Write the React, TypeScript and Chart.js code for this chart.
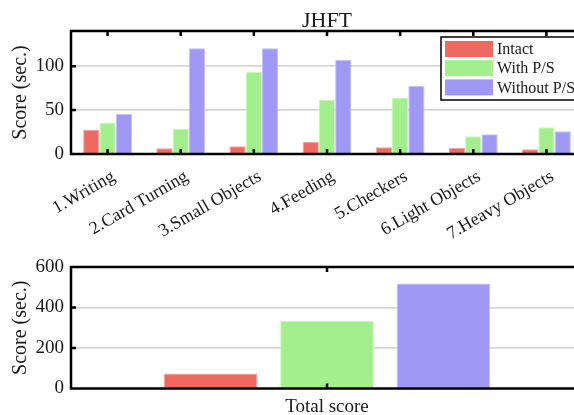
import React, { useEffect, useRef } from "react";
import { Chart, registerables } from "chart.js";

Chart.register(...registerables);

// Per-task scores (seconds)
const tasks = [
  "1.Writing",
  "2.Card Turning",
  "3.Small Objects",
  "4.Feeding",
  "5.Checkers",
  "6.Light Objects",
  "7.Heavy Objects",
];
const seriesNames = ["Intact", "With P/S", "Without P/S"];
const intact = [27.6, 6.5, 8.8, 13.7, 7.7, 6.9, 5.4];
const withPS = [35.6, 28.6, 93.5, 61.4, 64, 20.3, 30.5];
const withoutPS = [45.6, 120.5, 120.5, 107, 77.5, 22.6, 26];

// Total scores (seconds)
const totalCategory = ["Total score"];
const totals = [74, 334, 519];

const fills = ["#EE6A61", "#A3EF8D", "#9F98F4"];
const edges = ["#F4A49E", "#C8F6B9", "#C6C2F8"];

const SERIF = "'Liberation Serif', 'DejaVu Serif', serif";
const INK = "#1a1a1a";

// Black frame around the plot area with short inward ticks
const framePlugin = {
  id: "frame",
  afterDraw(chart: any) {
    const { ctx, chartArea: a } = chart;
    const x = chart.scales.x;
    const y = chart.scales.y;
    ctx.save();
    ctx.strokeStyle = "#000";
    ctx.lineWidth = 2.5;
    ctx.beginPath();
    for (let i = 0; i < x.ticks.length; i++) {
      const px = x.getPixelForTick(i);
      ctx.moveTo(px, a.bottom);
      ctx.lineTo(px, a.bottom - 5);
      ctx.moveTo(px, a.top);
      ctx.lineTo(px, a.top + 5);
    }
    for (const t of y.ticks) {
      const py = y.getPixelForValue(t.value);
      if (py <= a.top + 1 || py >= a.bottom - 1) continue;
      ctx.moveTo(a.left, py);
      ctx.lineTo(a.left + 5, py);
    }
    ctx.stroke();
    ctx.strokeRect(a.left, a.top, a.right - a.left, a.bottom - a.top);
    ctx.restore();
  },
};

// Title centred over the plot area
const plotTitlePlugin = {
  id: "plotTitle",
  afterDraw(chart: any, _args: any, opts: any) {
    if (!opts || !opts.text) return;
    const { ctx, chartArea: a } = chart;
    ctx.save();
    ctx.font = `normal 22px ${SERIF}`;
    ctx.fillStyle = INK;
    ctx.textAlign = "center";
    ctx.textBaseline = "middle";
    ctx.fillText(opts.text, (a.left + a.right) / 2, opts.y);
    ctx.restore();
  },
};

// Boxed legend inside the upper-right corner of the plot
const boxLegendPlugin = {
  id: "boxLegend",
  afterDraw(chart: any, _args: any, opts: any) {
    if (!opts || !opts.show) return;
    const { ctx } = chart;
    const x0 = opts.x;
    const y0 = opts.y;
    ctx.save();
    ctx.fillStyle = "#fff";
    ctx.fillRect(x0, y0, opts.w, opts.h);
    ctx.strokeStyle = "#000";
    ctx.lineWidth = 1.5;
    ctx.strokeRect(x0, y0, opts.w, opts.h);
    ctx.font = `normal 16px ${SERIF}`;
    ctx.textBaseline = "middle";
    ctx.textAlign = "left";
    chart.data.datasets.forEach((ds: any, i: number) => {
      const cy = y0 + 12 + i * 19.2;
      ctx.fillStyle = ds.backgroundColor;
      ctx.fillRect(x0 + 4, cy - 8, 48, 16);
      ctx.fillStyle = INK;
      ctx.fillText(ds.label, x0 + 56, cy + 1);
    });
    ctx.restore();
  },
};

function makeDatasets(series: number[][]) {
  return series.map((data, i) => ({
    label: seriesNames[i],
    data,
    backgroundColor: fills[i],
    borderColor: edges[i],
    borderWidth: 1,
  }));
}

function baseOptions(cfg: {
  max: number;
  step: number;
  axisWidth: number;
  xHeight: number;
  padTop: number;
  rotation: number;
  tickPad: number;
  tickShift: number;
  tickSize: number;
}) {
  return {
    responsive: false,
    animation: false as const,
    devicePixelRatio: 1,
    layout: { padding: { left: 0, right: 17, top: cfg.padTop, bottom: 0 } },
    plugins: {
      legend: { display: false },
      title: { display: false },
      tooltip: { enabled: false },
    },
    scales: {
      x: {
        type: "category" as const,
        grid: { display: false, drawTicks: false },
        border: { display: false },
        ticks: {
          color: INK,
          font: { family: SERIF, size: cfg.tickSize },
          minRotation: cfg.rotation,
          maxRotation: cfg.rotation,
          autoSkip: false,
          padding: cfg.tickPad,
          labelOffset: cfg.tickShift,
        },
        afterFit(scale: any) {
          scale.height = cfg.xHeight;
        },
      },
      y: {
        min: 0,
        max: cfg.max,
        border: { display: false },
        grid: { color: "#d6d6d6", lineWidth: 1.7, drawTicks: false },
        ticks: {
          stepSize: cfg.step,
          color: INK,
          font: { family: SERIF, size: 19 },
          padding: 7,
        },
        title: {
          display: true,
          text: "Score (sec.)",
          color: INK,
          font: { family: SERIF, size: 20 },
          padding: { top: 9, bottom: 0 },
        },
        afterBuildTicks(scale: any) {
          scale.ticks = scale.ticks.filter((t: any) => t.value % cfg.step === 0);
        },
        afterFit(scale: any) {
          scale.width = cfg.axisWidth;
        },
      },
    },
  };
}

function TaskChart() {
  const ref = useRef<HTMLCanvasElement>(null);
  useEffect(() => {
    if (!ref.current) return;
    const opts: any = baseOptions({
      max: 140,
      step: 50,
      axisWidth: 71,
      xHeight: 96,
      padTop: 31,
      rotation: 30,
      tickPad: 12,
      tickShift: 6,
      tickSize: 18,
    });
    opts.datasets = { bar: { barPercentage: 1, categoryPercentage: 0.668 } };
    opts.plugins.plotTitle = { text: "JHFT", y: 21 };
    opts.plugins.boxLegend = { show: true, x: 441, y: 37, w: 150, h: 63 };
    const chart = new Chart(ref.current, {
      type: "bar",
      data: { labels: tasks, datasets: makeDatasets([intact, withPS, withoutPS]) },
      options: opts,
      plugins: [framePlugin, plotTitlePlugin, boxLegendPlugin],
    });
    return () => chart.destroy();
  }, []);
  return (
    <canvas
      ref={ref}
      width={600}
      height={250}
      style={{ position: "absolute", left: 0, top: 0, width: 600, height: 250 }}
    />
  );
}

function TotalChart() {
  const ref = useRef<HTMLCanvasElement>(null);
  useEffect(() => {
    if (!ref.current) return;
    const opts: any = baseOptions({
      max: 600,
      step: 200,
      axisWidth: 71,
      xHeight: 26.5,
      padTop: 22,
      rotation: 0,
      tickPad: 7,
      tickShift: 0,
      tickSize: 19,
    });
    opts.datasets = { bar: { barPercentage: 0.805, categoryPercentage: 0.682 } };
    const chart = new Chart(ref.current, {
      type: "bar",
      data: {
        labels: totalCategory,
        datasets: makeDatasets(totals.map((v) => [v])),
      },
      options: opts,
      plugins: [framePlugin],
    });
    return () => chart.destroy();
  }, []);
  return (
    <canvas
      ref={ref}
      width={600}
      height={170}
      style={{ position: "absolute", left: 0, top: 245, width: 600, height: 170 }}
    />
  );
}

export default function App() {
  return (
    <div
      style={{
        position: "fixed",
        left: 0,
        top: 0,
        width: 574,
        height: 415,
        overflow: "hidden",
        background: "#fff",
      }}
    >
      <TaskChart />
      <TotalChart />
    </div>
  );
}
